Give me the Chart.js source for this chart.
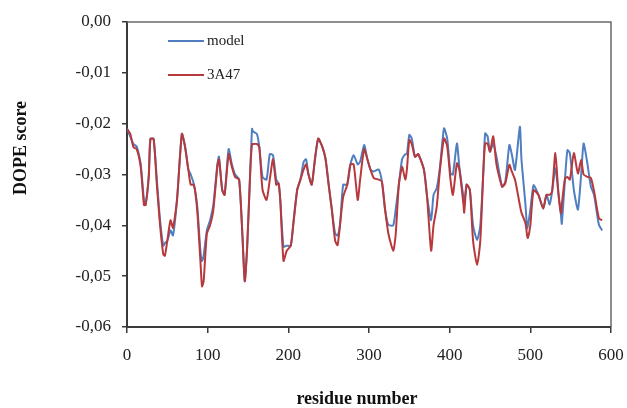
<!DOCTYPE html>
<html>
<head>
<meta charset="utf-8">
<script src="https://cdn.jsdelivr.net/npm/chart.js@4/dist/chart.umd.min.js"></script>
<style>
  html, body { margin: 0; padding: 0; background: #fff; }
  #wrap { width: 627px; height: 408px; }
</style>
</head>
<body>
<div id="wrap"><canvas id="dope"></canvas></div>
<script>
const residues = [0,4,8,12,17,21,23,27,29,33,37,41,45,47,50,54,57,62,68,72,76,79,83,87,91,93,95,99,103,107,112,114,118,121,126,130,134,139,143,146,149,153,155,156,161,164,168,173,177,181,185,188,190,194,198,203,206,211,215,219,222,225,229,233,237,242,246,250,254,258,261,264,268,273,277,281,286,289,294,298,302,306,312,316,320,324,330,333,337,341,345,347,350,353,357,361,368,372,377,380,384,388,393,397,401,404,409,412,417,418,421,425,429,434,438,442,444,447,450,454,458,465,469,474,477,481,487,489,494,496,497,500,504,510,516,520,524,527,531,535,538,539,543,546,549,554,559,563,566,570,575,579,585,589]

const modelScore = [-0.021,-0.0225,-0.024,-0.0245,-0.028,-0.035,-0.036,-0.030,-0.023,-0.023,-0.031,-0.039,-0.044,-0.0435,-0.043,-0.041,-0.042,-0.035,-0.022,-0.0245,-0.029,-0.030,-0.032,-0.036,-0.045,-0.047,-0.046,-0.041,-0.039,-0.036,-0.028,-0.0265,-0.033,-0.034,-0.025,-0.028,-0.030,-0.031,-0.0417,-0.051,-0.044,-0.0285,-0.021,-0.0215,-0.022,-0.0245,-0.0305,-0.031,-0.026,-0.0262,-0.031,-0.0318,-0.035,-0.0442,-0.044,-0.044,-0.040,-0.033,-0.031,-0.0275,-0.027,-0.030,-0.032,-0.027,-0.023,-0.0245,-0.0268,-0.032,-0.037,-0.0416,-0.042,-0.040,-0.032,-0.032,-0.028,-0.0262,-0.028,-0.0275,-0.0242,-0.027,-0.0291,-0.0294,-0.029,-0.0314,-0.037,-0.0399,-0.040,-0.037,-0.032,-0.027,-0.026,-0.026,-0.0222,-0.0229,-0.0265,-0.026,-0.029,-0.0344,-0.039,-0.034,-0.0327,-0.0285,-0.0209,-0.023,-0.0298,-0.030,-0.0239,-0.0285,-0.0344,-0.036,-0.032,-0.033,-0.040,-0.0429,-0.040,-0.0285,-0.0219,-0.0225,-0.0255,-0.0239,-0.0265,-0.0324,-0.0314,-0.0242,-0.026,-0.0291,-0.0206,-0.027,-0.036,-0.0406,-0.040,-0.037,-0.0321,-0.034,-0.0367,-0.034,-0.0359,-0.0333,-0.0288,-0.034,-0.038,-0.0397,-0.0308,-0.0252,-0.0258,-0.0331,-0.0369,-0.030,-0.0239,-0.0271,-0.0323,-0.034,-0.0399,-0.041]

const a3a47Score = [-0.021,-0.022,-0.0246,-0.025,-0.0285,-0.036,-0.036,-0.0305,-0.023,-0.023,-0.032,-0.040,-0.0457,-0.046,-0.043,-0.039,-0.0405,-0.035,-0.022,-0.0246,-0.029,-0.032,-0.032,-0.037,-0.047,-0.052,-0.051,-0.0417,-0.040,-0.037,-0.0285,-0.027,-0.033,-0.034,-0.026,-0.0285,-0.0305,-0.031,-0.0417,-0.051,-0.0443,-0.0285,-0.024,-0.024,-0.024,-0.0246,-0.033,-0.035,-0.031,-0.027,-0.032,-0.0318,-0.035,-0.047,-0.045,-0.044,-0.040,-0.033,-0.031,-0.029,-0.028,-0.030,-0.032,-0.027,-0.0229,-0.0245,-0.0268,-0.032,-0.037,-0.043,-0.0439,-0.040,-0.0344,-0.032,-0.028,-0.028,-0.035,-0.031,-0.025,-0.027,-0.0291,-0.0307,-0.031,-0.0314,-0.037,-0.0416,-0.045,-0.042,-0.032,-0.0285,-0.031,-0.029,-0.0232,-0.024,-0.0265,-0.026,-0.029,-0.0344,-0.045,-0.040,-0.0363,-0.029,-0.0229,-0.0245,-0.031,-0.034,-0.0278,-0.029,-0.0357,-0.0375,-0.032,-0.033,-0.043,-0.0478,-0.043,-0.0285,-0.0239,-0.0239,-0.0255,-0.0225,-0.028,-0.0324,-0.0317,-0.0281,-0.0294,-0.031,-0.036,-0.0375,-0.0396,-0.042,-0.0425,-0.040,-0.0331,-0.034,-0.0367,-0.034,-0.034,-0.0333,-0.0258,-0.034,-0.0376,-0.036,-0.0308,-0.0305,-0.031,-0.0258,-0.0298,-0.0271,-0.030,-0.0304,-0.0307,-0.0333,-0.0386,-0.039]

const seriesNames = ['model', '3A47']
const seriesColors = ['#4F7FC0', '#B7393B']
const xTitle = 'residue number'
const yTitle = 'DOPE score'

const serif = '"Liberation Serif", "Times New Roman", serif'
const axisColor = '#3a3a3a'

// frame, legend and axis titles
const decorations = {
  id: 'decorations',
  afterDraw(chart) {
    const ctx = chart.ctx
    const a = chart.chartArea
    ctx.save()
    ctx.strokeStyle = '#6a6a6a'
    ctx.lineWidth = 1.5
    ctx.beginPath()
    ctx.moveTo(a.left, a.top)
    ctx.lineTo(a.right, a.top)
    ctx.lineTo(a.right, a.bottom)
    ctx.stroke()

    // legend
    ctx.font = '15px ' + serif
    ctx.textBaseline = 'middle'
    ctx.fillStyle = '#222'
    chart.data.datasets.forEach((ds, i) => {
      const y = 41 + i * 34
      ctx.strokeStyle = ds.borderColor
      ctx.lineWidth = 2
      ctx.beginPath()
      ctx.moveTo(168, y)
      ctx.lineTo(204, y)
      ctx.stroke()
      ctx.fillText(ds.label, 207, y)
    })

    // axis titles
    ctx.font = 'bold 18px ' + serif
    ctx.fillStyle = '#111'
    ctx.textAlign = 'center'
    ctx.fillText(xTitle, 357, 399)
    ctx.translate(21, 148)
    ctx.rotate(-Math.PI / 2)
    ctx.fillText(yTitle, 0, 0)
    ctx.restore()
  }
}

const dopeData = {
  datasets: [{
    label: seriesNames[0],
    data: residues.map((r, i) => ({x: r, y: modelScore[i]})),
    borderColor: seriesColors[0],
    borderWidth: 2,
    pointRadius: 0,
    tension: 0.2,
    order: 1
  },
  {
    label: seriesNames[1],
    data: residues.map((r, i) => ({x: r, y: a3a47Score[i]})),
    borderColor: seriesColors[1],
    borderWidth: 2,
    pointRadius: 0,
    tension: 0.2,
    order: 0
  }]
}

const dopeConfig = {
  type: 'line',
  data: dopeData,
  options: {
    responsive: true,
    maintainAspectRatio: false,
    animation: false,
    layout: { padding: { top: 22, right: 16, left: 0, bottom: 0 } },
    scales: {
      x: {
        type: 'linear',
        min: 0,
        max: 600,
        afterFit: s => { s.height = 81; s.paddingLeft = 0; s.paddingRight = 0 },
        ticks: {
          stepSize: 100,
          padding: 12,
          color: '#222',
          font: { family: serif, size: 17 }
        },
        grid: { drawOnChartArea: false, drawTicks: true, tickLength: 6, color: axisColor, lineWidth: 1.5 },
        border: { display: true, color: axisColor, width: 2 }
      },
      y: {
        min: -0.06,
        max: 0,
        afterFit: s => { s.width = 127; s.paddingTop = 0; s.paddingBottom = 0 },
        ticks: {
          stepSize: 0.01,
          padding: 11,
          color: '#222',
          font: { family: serif, size: 17 },
          callback: v => v.toFixed(2).replace('.', ',')
        },
        grid: { drawOnChartArea: false, drawTicks: true, tickLength: 5, color: axisColor, lineWidth: 1.5 },
        border: { display: true, color: axisColor, width: 2 }
      }
    },
    plugins: {
      legend: { display: false },
      tooltip: { enabled: false }
    }
  },
  plugins: [decorations]
}

const dopeChart = new Chart(
  document.getElementById('dope').getContext('2d'),
  dopeConfig
)
</script>
</body>
</html>
